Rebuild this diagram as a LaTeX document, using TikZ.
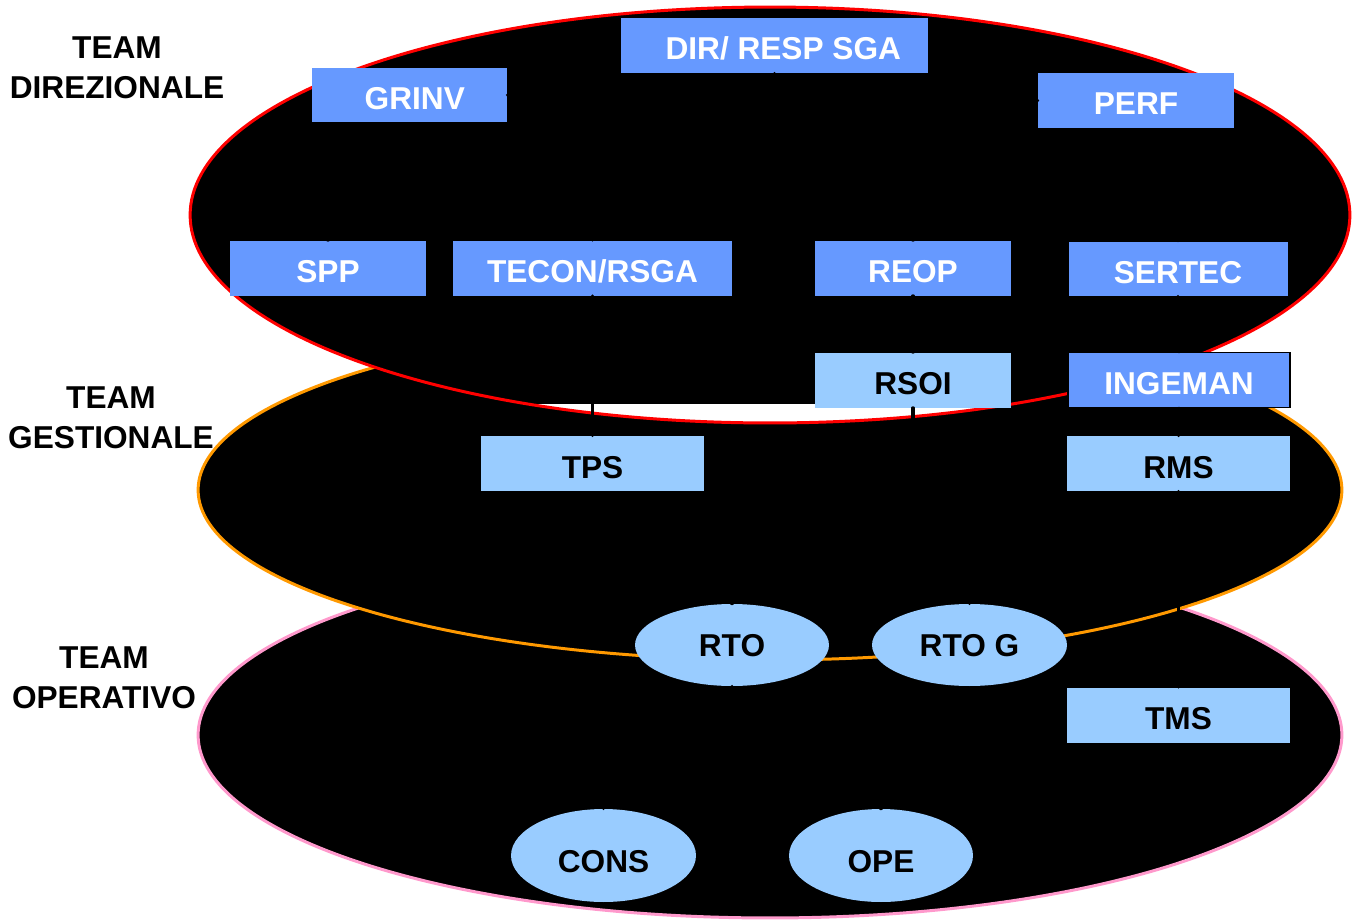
\documentclass[tikz,border=0pt]{standalone}
\usepackage{fontspec}
\setmainfont{Liberation Sans}
\usetikzlibrary{shapes.geometric}

\definecolor{boxblue}{HTML}{6699FF}
\definecolor{boxlight}{HTML}{99CCFF}
\definecolor{rimorange}{HTML}{FF9900}
\definecolor{rimpink}{HTML}{FF99CC}

\tikzset{
  rim/.style={fill=black,line width=1.7pt},
  teamlabel/.style={align=center,font=\fontsize{18}{22.7}\selectfont\bfseries},
  link/.style={draw=black,line width=1.8pt,line cap=round}
}

\begin{document}
\begin{tikzpicture}[x=0.02cm,y=-0.02cm]

      \useasboundingbox (0,0) rectangle (1353,920);

      % the three team layers
      \filldraw[rim,draw=rimpink]   (770,735) ellipse [x radius=11.44cm, y radius=3.66cm];
      \filldraw[rim,draw=rimorange] (770,490) ellipse [x radius=11.44cm, y radius=3.40cm];
      \fill[black] (770,215) ellipse [x radius=11.6cm, y radius=4.16cm];
      \begin{scope}
        \clip (770,215) ellipse [x radius=11.6cm, y radius=4.16cm];
        \fill[white] (0,404) rectangle (1353,440);
      \end{scope}
      \draw[red,line width=1.7pt] (770,215) ellipse [x radius=11.6cm, y radius=4.16cm];

      \node[teamlabel] (tdir) at (117,68)  {TEAM\\DIREZIONALE};
      \node[teamlabel] (tges) at (111,418) {TEAM\\GESTIONALE};
      \node[teamlabel] (tope) at (104,678) {TEAM\\OPERATIVO};

      \begin{scope}[every node/.style={rectangle,fill=boxblue,text=white,inner sep=0pt,
          minimum height=1.1cm,text height=16.5pt,text depth=0pt,
          font=\fontsize{18}{22}\selectfont\bfseries}]
        \node[minimum width=6.14cm] (dir)    at (774.5,45.5) {\hspace{10pt}DIR/\ RESP SGA};
        \node[minimum width=3.9cm]  (grinv)  at (409.5,95)   {\hspace{6pt}GRINV};
        \node[minimum width=3.92cm] (perf)   at (1136,100.5) {PERF};
        \node[minimum width=3.92cm] (spp)    at (328,268)    {SPP};
        \node[minimum width=5.58cm] (tecon)  at (592.5,268)  {TECON/RSGA};
        \node[minimum width=3.92cm] (reop)   at (913,268)    {REOP};
        \node[minimum width=4.4cm,draw=black,line width=0.5pt]  (sertec)  at (1178,268.5) {SERTEC};
        \node[minimum width=4.44cm,draw=black,line width=0.8pt] (ingeman) at (1179,380)   {INGEMAN};
      \end{scope}

      \begin{scope}[every node/.style={rectangle,fill=boxlight,text=black,inner sep=0pt,
          minimum height=1.1cm,text height=16.5pt,text depth=0pt,
          font=\fontsize{18}{22}\selectfont\bfseries}]
        \node[minimum width=3.92cm] (rsoi) at (913,380)     {RSOI};
        \node[minimum width=4.46cm] (tps)  at (592.5,463.5) {TPS};
        \node[minimum width=4.46cm] (rms)  at (1178.5,463.5){RMS};
        \node[minimum width=4.46cm] (tms)  at (1178.5,715)  {TMS};
      \end{scope}

      \begin{scope}[every node/.style={ellipse,fill=boxlight,text=black,inner sep=0pt,
          text height=12.9pt,text depth=0pt,font=\fontsize{18}{22}\selectfont\bfseries}]
        \node[minimum width=3.88cm,minimum height=1.64cm] (rto)  at (732,645)    {RTO};
        \node[minimum width=3.9cm,minimum height=1.64cm]  (rtog) at (969.5,645)  {RTO G};
        \node[minimum width=3.7cm,minimum height=1.86cm,text height=19pt]  (cons) at (603.5,855.5){CONS};
        \node[minimum width=3.68cm,minimum height=1.86cm,text height=19pt] (ope)  at (881,855.5)  {OPE};
      \end{scope}

      % links
      \coordinate (bus1) at (775,216);
      \coordinate (bus2) at (913,570);
      \coordinate (bus3) at (727,770);

      \begin{scope}[every path/.style={link}]
        \path (grinv.east) edge (perf.west);
        \path (dir.south) edge (bus1);
        \draw (spp.north) |- (bus1) -| (sertec.north);
        \path (tecon.north) edge (tecon.north |- bus1);
        \path (reop.north) edge (reop.north |- bus1);
        \path (tecon.south) edge (tps.north);
        \path (reop.south) edge (rsoi.north);
        \path (rsoi.south) edge (bus2);
        \draw (rto.north) |- (bus2) -| (rtog.north);
        \path (sertec.south) edge (ingeman.north);
        \path (ingeman.south) edge (rms.north);
        \path (rms.south) edge (tms.north);
        \path (rto.south) edge (bus3);
        \draw (cons.north) |- (bus3) -| (ope.north);
      \end{scope}

    \end{tikzpicture}
\end{document}
